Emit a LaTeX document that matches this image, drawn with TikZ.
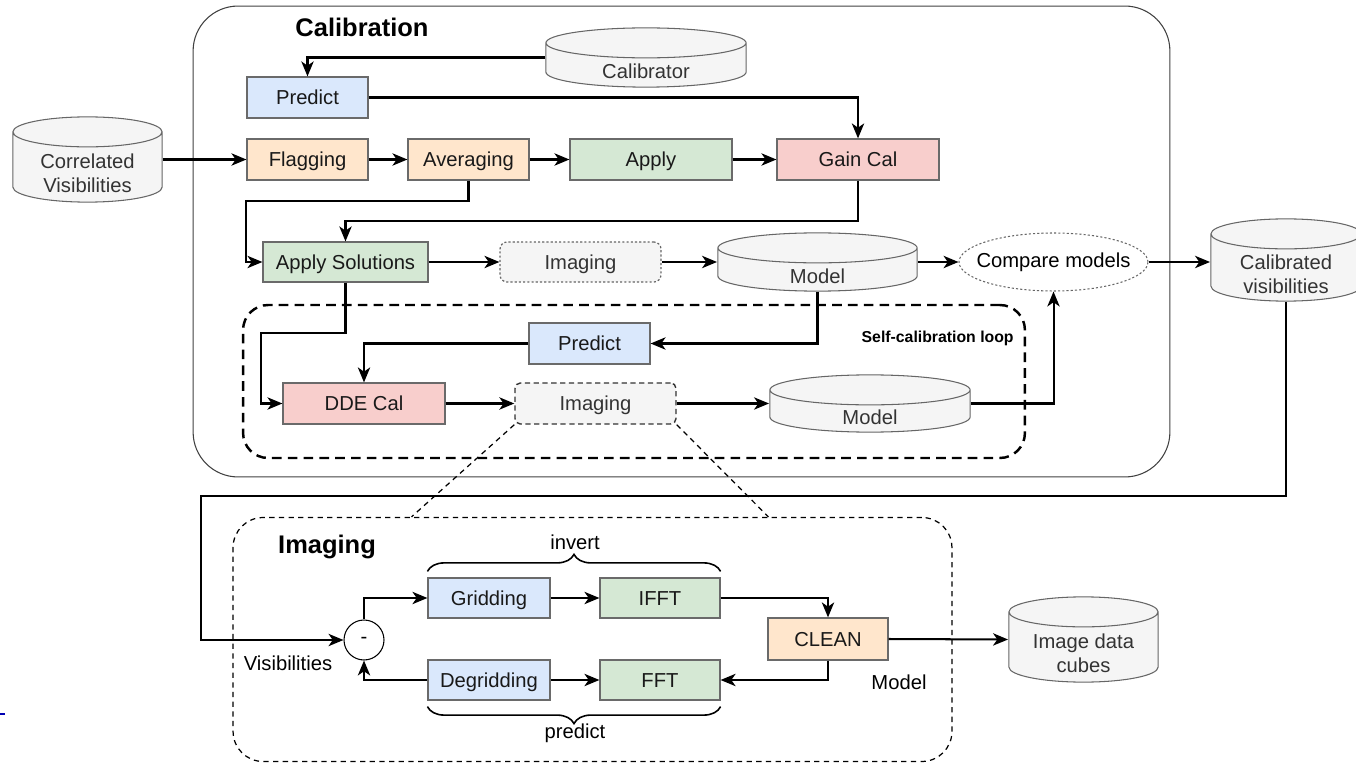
\documentclass[tikz,border=0pt]{standalone}
\usepackage{fontspec}
\setmainfont{Liberation Sans}
\usepackage{tikz}
\usetikzlibrary{positioning}
\usetikzlibrary{arrows.meta, shapes.geometric, decorations.pathreplacing, calc}
\definecolor{predfill}{HTML}{DAE8FC}
\definecolor{flagfill}{HTML}{FFE6CC}
\definecolor{applyfill}{HTML}{D5E8D4}
\definecolor{gainfill}{HTML}{F8CECC}
\definecolor{boxline}{HTML}{6A6A6A}
\definecolor{cylfill}{HTML}{F5F5F5}
\definecolor{cylline}{HTML}{666666}

\tikzset{
  txt/.style={font=\fontsize{11.5}{13.5}\selectfont},
  box/.style={draw=boxline, line width=0.7pt, minimum width=2.42cm, minimum height=0.82cm, inner sep=1pt, txt, text=black!90,
    text height=9.5pt, text depth=1.5pt},
  bluebox/.style={box, fill=predfill},
  orangebox/.style={box, fill=flagfill},
  greenbox/.style={box, fill=applyfill},
  redbox/.style={box, fill=gainfill},
  dotbox/.style={box, fill=cylfill, draw=black!60, rounded corners=4pt, dash pattern=on 1.2pt off 1.2pt, text=black!80},
  dashbox/.style={box, fill=cylfill, draw=black!80, line width=0.8pt, rounded corners=3pt, dash pattern=on 3pt off 2pt, text=black!80},
  dbcyl/.style={inner sep=0pt, outer sep=0pt,
    path picture={
      \filldraw[fill=cylfill, draw=cylline, line width=0.6pt]
        let \p1=([shift={(0.5pt,0.5pt)}]path picture bounding box.south west),
            \p2=([shift={(-0.5pt,-0.5pt)}]path picture bounding box.north east),
            \n1={(\x2-\x1)/2}, \n2={0.3cm} in
        (\x1,\y2-\n2) -- (\x1,\y1+\n2)
          arc[start angle=180, end angle=360, x radius=\n1, y radius=\n2]
          -- (\x2,\y2-\n2)
          arc[start angle=0, end angle=180, x radius=\n1, y radius=\n2] -- cycle
        (\x1,\y2-\n2) arc[start angle=180, end angle=360, x radius=\n1, y radius=\n2];
    }},
  cyltxt/.style={txt, text=black!80, align=center, yshift=-0.28cm},
  flow/.style={line width=1.15pt, -{Stealth[length=8.5pt, width=7pt, inset=2.4pt]}},
  wire/.style={line width=1.1pt},
  calframe/.style={draw=black!75, line width=0.6pt, rounded corners=0.9cm},
  loopframe/.style={draw, line width=1.4pt, dash pattern=on 5.5pt off 3.5pt, rounded corners=0.5cm},
  imgframe/.style={draw, line width=0.7pt, dash pattern=on 3pt off 2.5pt, rounded corners=0.6cm},
  zoomline/.style={draw, line width=0.7pt, dash pattern=on 3pt off 2.5pt},
}

\begin{document}
\begin{tikzpicture}[x=0.02cm, y=-0.02cm]
    \useasboundingbox (0,0) rectangle (1356,763);

    % Khung lớn "Calibration"
    \node[calframe, minimum width=19.54cm, minimum height=9.42cm] (calBox) at (681.5,241.5) {};
    \node[font=\fontsize{14.5}{16}\selectfont\bfseries] (calTitle) at (362,27) {Calibration};

    % Khung vòng lặp self-calibration
    \node[loopframe, minimum width=15.64cm, minimum height=3.06cm] (loopBox) at (634,381.5) {};
    \node[font=\fontsize{9}{10}\selectfont\bfseries, anchor=east, inner sep=0pt] (loopTitle) at (1014,338) {Self-calibration loop};

    % Khung "Imaging" phía dưới
    \node[imgframe, minimum width=14.38cm, minimum height=4.88cm] (imgBox) at (592.5,639.5) {};
    \node[font=\fontsize{14.5}{16}\selectfont\bfseries] (imgTitle) at (327,547) {Imaging};

    % Các cơ sở dữ liệu (hình trụ)
    \node[dbcyl, minimum width=3.02cm, minimum height=1.74cm, label={[cyltxt]center:Correlated\\Visibilities}] (corr) at (87.5,159.5) {};
    \node[dbcyl, minimum width=4.04cm, minimum height=1.22cm, label={[cyltxt]center:Calibrator}] (calib) at (646,57.5) {};
    \node[dbcyl, minimum width=4.02cm, minimum height=1.2cm, label={[cyltxt]center:Model}] (modelA) at (817.5,262) {};
    \node[dbcyl, minimum width=4.04cm, minimum height=1.18cm, label={[cyltxt]center:Model}] (modelB) at (870,403.5) {};
    \node[dbcyl, minimum width=3.04cm, minimum height=1.68cm, label={[cyltxt]center:Calibrated\\visibilities}] (calVis) at (1286,260) {};
    \node[dbcyl, minimum width=3.02cm, minimum height=1.74cm, label={[cyltxt]center:Image data\\cubes}] (cubes) at (1083.5,639.5) {};

    % Hàng trên
    \node[bluebox] (predA) at (307.5,97.5) {Predict};
    \node[orangebox] (flag) at (307.5,159.5) {Flagging};
    \node[orangebox] (avg) at (468.5,159.5) {Averaging};
    \node[greenbox, minimum width=3.24cm] (apply) at (651,159.5) {Apply};
    \node[redbox, minimum width=3.24cm] (gain) at (858,159.5) {Gain Cal};

    % Hàng giữa
    \node[greenbox, minimum width=3.3cm, minimum height=0.8cm] (applySol) at (345.5,262) {Apply Solutions};
    \node[dotbox, minimum width=3.22cm, minimum height=0.8cm] (imgA) at (580.5,262) {Imaging};
    \node[ellipse, draw=black!60, line width=0.6pt, dash pattern=on 1.2pt off 1.2pt, minimum width=3.78cm, minimum height=1.16cm, inner sep=0pt,
      label={[txt]center:Compare models}] (cmp) at (1053.5,262) {};

    % Trong vòng self-calibration
    \node[bluebox] (predB) at (589.5,343.5) {Predict};
    \node[redbox, minimum width=3.24cm] (dde) at (364,403.5) {DDE Cal};
    \node[dashbox, minimum width=3.22cm] (imgB) at (595.5,403.5) {Imaging};

    % Trong khung Imaging
    \node[circle, draw, line width=0.6pt, minimum size=0.8cm, inner sep=0pt, txt] (minus) at (364,640) {-};
    \node[txt] (visLbl) at (288,663) {Visibilities};
    \node[bluebox, minimum width=2.44cm, minimum height=0.8cm] (grid) at (489,598) {Gridding};
    \node[greenbox, minimum width=2.4cm, minimum height=0.8cm] (ifft) at (660,598) {IFFT};
    \node[bluebox, minimum width=2.44cm, minimum height=0.8cm] (degrid) at (489,680) {Degridding};
    \node[greenbox, minimum width=2.4cm, minimum height=0.8cm] (fft) at (660,680) {FFT};
    \node[orangebox, minimum width=2.4cm, minimum height=0.84cm] (clean) at (828,639) {CLEAN};
    \node[txt] (modelLbl) at (899,682) {Model};

    % Ngoặc nhọn invert / predict
    \draw[wire, line width=0.9pt, decorate, decoration={brace, amplitude=0.34cm}] ($(grid.north west)+(0,-6)$) -- ($(ifft.north east)+(0,-6)$);
    \node[txt] (invLbl) at (575,542) {invert};
    \draw[wire, line width=0.9pt, decorate, decoration={brace, amplitude=0.34cm}] ($(fft.south east)+(0,6)$) -- ($(degrid.south west)+(0,6)$);
    \node[txt] (predLbl) at (575,733) {predict};

    % Mũi tên phần Calibration
    \draw[flow] (calib.west) -| (predA.north);
    \draw[flow] (predA.east) -| (gain.north);
    \draw[flow] (corr.east) -- (flag.west);
    \draw[flow] (flag) -- (avg);
    \draw[flow] (avg) -- (apply);
    \draw[flow] (apply) -- (gain);
    \draw[flow] (avg.south) -- ++(0,20) -| ($(applySol.west)+(-16,0)$) -- (applySol.west);
    \draw[flow] (gain.south) -- ++(0,40) -| (applySol.north);
    \draw[flow] (applySol) -- (imgA);
    \draw[flow] (imgA) -- (modelA);
    \draw[flow] (modelA) -- (cmp);
    \draw[flow] (cmp.east) -- (cmp.east -| calVis.west);

    % Mũi tên vòng self-calibration
    \draw[flow] (modelA.south) |- (predB.east);
    \draw[flow] (predB.west) -| (dde.north);
    \draw[flow] (applySol.south) -- ++(0,50) -| ($(dde.west)+(-21,0)$) -- (dde.west);
    \draw[flow] (dde) -- (imgB);
    \draw[flow] (imgB) -- (modelB);
    \draw[flow] (modelB.east) -| (cmp.south);

    % Đường phóng to Imaging
    \draw[zoomline] (imgB.south west) -- ($(imgBox.north west)+(179,0)$);
    \draw[zoomline] (imgB.south east) -- ($(imgBox.north west)+(536,0)$);

    % Mũi tên phần Imaging
    \draw[flow] (calVis.south) -- ++(0,194) -| ($(minus.west)+(-142,0)$) -- (minus.west);
    \draw[flow] (minus.north) |- (grid.west);
    \draw[flow] (degrid.west) -| (minus.south);
    \draw[flow] (grid) -- (ifft);
    \draw[flow] (degrid) -- (fft);
    \draw[flow] (ifft.east) -| (clean.north);
    \draw[flow] (clean.south) |- (fft.east);
    \draw[flow] (clean.east) -- (cubes.west);

    % vạch xanh nhỏ bên trái
    \draw[blue!70!black, line width=1.2pt] (0,714) -- (5,714);
\end{tikzpicture}
\end{document}
